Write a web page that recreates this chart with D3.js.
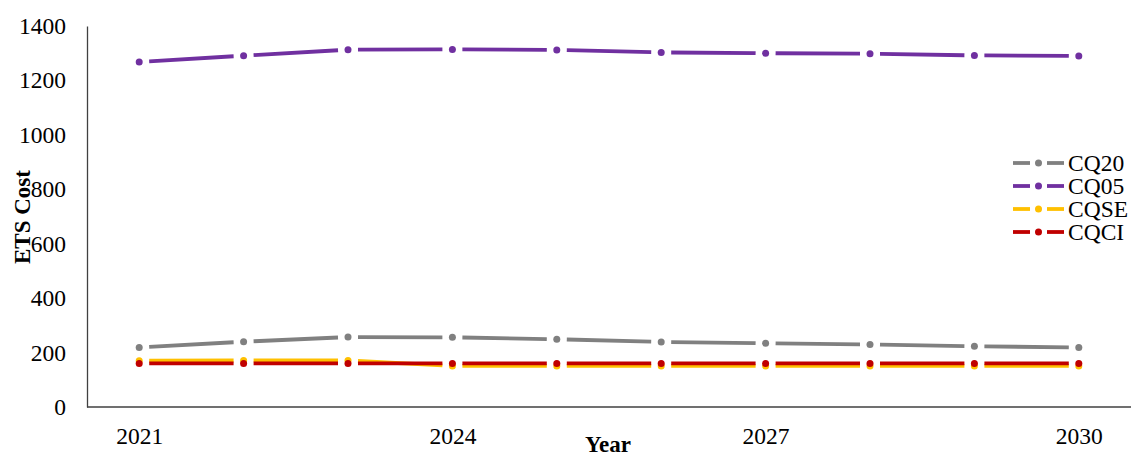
<!DOCTYPE html>
<html>
<head>
<meta charset="utf-8">
<script src="https://cdn.jsdelivr.net/npm/d3@7/dist/d3.min.js"></script>
<style>
  html, body { margin: 0; padding: 0; background: #fff; }
  svg { display: block; }
  text { font-family: "Liberation Serif", "Times New Roman", serif; fill: #000; }
</style>
</head>
<body>
<svg id="chart" width="1131" height="454"></svg>
<script>
// Yearly ETS cost by scenario
const years = [2021, 2022, 2023, 2024, 2025, 2026, 2027, 2028, 2029, 2030];
const seriesNames = ["CQ20", "CQ05", "CQSE", "CQCI"];
const cq20 = [219, 240, 257, 256, 249, 239, 234, 230, 223, 219];
const cq05 = [1268, 1291, 1313, 1314, 1312, 1303, 1300, 1298, 1292, 1290];
const cqse = [170, 171, 171, 151, 151, 151, 151, 151, 151, 151];
const cqci = [160, 160, 160, 160, 160, 160, 160, 160, 160, 160];
const colors = ["#808080", "#7030A0", "#FFC000", "#C00000"];
const yTicks = [0, 200, 400, 600, 800, 1000, 1200, 1400];
const xTickLabels = [2021, 2024, 2027, 2030];

const seriesValues = [cq20, cq05, cqse, cqci];

const svg = d3.select("#chart");
const plotLeft = 87, plotRight = 1131, plotTop = 26, plotBottom = 407;

const x = d3.scalePoint().domain(years).range([plotLeft, plotRight]).padding(0.5);
const y = d3.scaleLinear().domain([0, 1400]).range([plotBottom, plotTop]);

// Axes
const yAxis = d3.axisLeft(y).tickValues(yTicks).tickSize(0).tickPadding(21)
  .tickFormat(d3.format("d"));
const gy = svg.append("g").attr("transform", `translate(${plotLeft},0)`).call(yAxis);
gy.select(".domain").attr("stroke", "#404040").attr("stroke-width", 1.3);
gy.selectAll("text").attr("font-size", 23.5);

const xAxis = d3.axisBottom(x).tickValues(xTickLabels).tickSize(0).tickPadding(20)
  .tickFormat(d3.format("d"));
const gx = svg.append("g").attr("transform", `translate(0,${plotBottom})`).call(xAxis);
gx.select(".domain").attr("stroke", "#404040").attr("stroke-width", 1.3)
  .attr("d", `M${plotLeft},0H${plotRight}`);
gx.selectAll("text").attr("font-size", 23.5);

// Axis titles
svg.append("text")
  .attr("x", 608).attr("y", 452)
  .attr("text-anchor", "middle")
  .attr("font-size", 23).attr("font-weight", "bold")
  .text("Year");

svg.append("text")
  .attr("transform", "translate(30,217) rotate(-90)")
  .attr("text-anchor", "middle")
  .attr("font-size", 23).attr("font-weight", "bold")
  .text("ETS Cost");

// Lines: dashes between markers, leaving a small gap around each marker
const gap = 10;
seriesValues.forEach((vals, si) => {
  const g = svg.append("g");
  const pts = years.map((yr, i) => [x(yr), y(vals[i])]);
  for (let i = 0; i < pts.length - 1; i++) {
    const [x0, y0] = pts[i], [x1, y1] = pts[i + 1];
    const len = Math.hypot(x1 - x0, y1 - y0);
    const ux = (x1 - x0) / len, uy = (y1 - y0) / len;
    g.append("line")
      .attr("x1", x0 + ux * gap).attr("y1", y0 + uy * gap)
      .attr("x2", x1 - ux * gap).attr("y2", y1 - uy * gap)
      .attr("stroke", colors[si]).attr("stroke-width", 3.8);
  }
  g.selectAll("circle").data(pts).join("circle")
    .attr("cx", d => d[0]).attr("cy", d => d[1]).attr("r", 3.5)
    .attr("fill", colors[si]);
});

// Legend
const legend = svg.append("g");
seriesNames.forEach((name, i) => {
  const ly = 163 + i * 23;
  const row = legend.append("g");
  row.append("line").attr("x1", 1013).attr("x2", 1030).attr("y1", ly).attr("y2", ly)
    .attr("stroke", colors[i]).attr("stroke-width", 3.8);
  row.append("line").attr("x1", 1047).attr("x2", 1064).attr("y1", ly).attr("y2", ly)
    .attr("stroke", colors[i]).attr("stroke-width", 3.8);
  row.append("circle").attr("cx", 1038.5).attr("cy", ly).attr("r", 3.5).attr("fill", colors[i]);
  row.append("text").attr("x", 1068).attr("y", ly).attr("dy", "0.35em")
    .attr("font-size", 23.5).text(name);
});
</script>
</body>
</html>
